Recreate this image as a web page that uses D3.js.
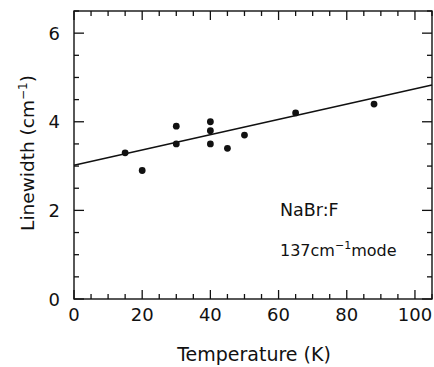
<!DOCTYPE html>
<html><head><meta charset="utf-8">
<script src="https://cdn.jsdelivr.net/npm/d3@7"></script>
<style>body{margin:0;background:#fff}svg{display:block}text{font-family:"DejaVu Sans",sans-serif;fill:#111}</style>
</head><body><svg id="c" width="434" height="367"></svg>
<script>
const temperature = [15, 20, 30, 30, 40, 40, 40, 45, 50, 65, 88];
const linewidth = [3.3, 2.9, 3.9, 3.5, 4.0, 3.8, 3.5, 3.4, 3.7, 4.2, 4.4];
const fitX = [0, 105];
const fitY = [3.02, 4.83];
const xTicks = [0, 20, 40, 60, 80, 100];
const yTicks = [0, 2, 4, 6];

const svg = d3.select("#c");
const m = {l:74, r:432, t:11, b:299};
const x = d3.scaleLinear().domain([0,105]).range([m.l, m.r]);
const y = d3.scaleLinear().domain([0,6.5]).range([m.b, m.t]);
const ink = "#111";

// frame
svg.append("rect").attr("x",m.l).attr("y",m.t).attr("width",m.r-m.l).attr("height",m.b-m.t)
  .attr("fill","none").attr("stroke",ink).attr("stroke-width",1.4);

const xMinor = d3.range(0,105.1,5), yMinor = d3.range(0,6.51,0.5);
const isMajX = v => Math.abs(v%20)<1e-6, isMajY = v => Math.abs(v%2)<1e-6;
xMinor.forEach(v=>{
  const L = isMajX(v)?9:5;
  svg.append("line").attr("x1",x(v)).attr("x2",x(v)).attr("y1",m.b).attr("y2",m.b-L).attr("stroke",ink).attr("stroke-width",1.3);
  svg.append("line").attr("x1",x(v)).attr("x2",x(v)).attr("y1",m.t).attr("y2",m.t+L).attr("stroke",ink).attr("stroke-width",1.3);
});
yMinor.forEach(v=>{
  const L = isMajY(v)?10:5;
  svg.append("line").attr("y1",y(v)).attr("y2",y(v)).attr("x1",m.l).attr("x2",m.l+L).attr("stroke",ink).attr("stroke-width",1.3);
  svg.append("line").attr("y1",y(v)).attr("y2",y(v)).attr("x1",m.r).attr("x2",m.r-L).attr("stroke",ink).attr("stroke-width",1.3);
});
svg.selectAll(".xl").data(xTicks).enter().append("text")
  .attr("x",d=>x(d)).attr("y",m.b+22).attr("text-anchor","middle").attr("font-size",18).text(d=>d);
svg.selectAll(".yl").data(yTicks).enter().append("text")
  .attr("x",m.l-14).attr("y",d=>y(d)+6.5).attr("text-anchor","end").attr("font-size",18).text(d=>d);

svg.append("text").attr("x",254).attr("y",361).attr("text-anchor","middle").attr("font-size",19).text("Temperature (K)");
const yt = svg.append("text").attr("transform","translate(34,153) rotate(-90)").attr("text-anchor","middle").attr("font-size",18.5);
yt.append("tspan").text("Linewidth (cm");
yt.append("tspan").attr("font-size",12).attr("dy",-7).text("−1");
yt.append("tspan").attr("dy",7).text(")");

svg.append("line").attr("x1",x(fitX[0])).attr("y1",y(fitY[0])).attr("x2",x(fitX[1])).attr("y2",y(fitY[1]))
  .attr("stroke",ink).attr("stroke-width",1.5);

svg.selectAll(".p").data(temperature).enter().append("circle")
  .attr("cx",d=>x(d)).attr("cy",(d,i)=>y(linewidth[i])).attr("r",3.4).attr("fill",ink);

svg.append("text").attr("x",280).attr("y",216).attr("font-size",17.5).text("NaBr:F");
const ann = svg.append("text").attr("x",280).attr("y",256).attr("font-size",16);
ann.append("tspan").text("137cm");
ann.append("tspan").attr("font-size",11).attr("dy",-7).text("−1");
ann.append("tspan").attr("dy",7).text("mode");
</script></body></html>
